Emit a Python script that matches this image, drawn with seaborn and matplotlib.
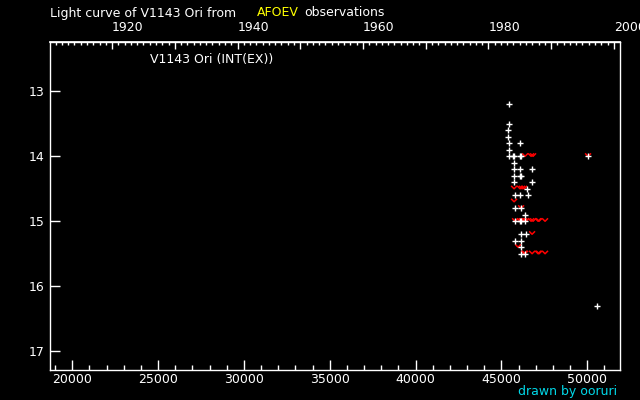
import numpy as np
import pandas as pd
import seaborn as sns
import matplotlib
matplotlib.use("Agg")
import matplotlib.pyplot as plt
from matplotlib.path import Path
from matplotlib.ticker import MultipleLocator, FixedLocator, FuncFormatter

# ---- data (JD - 2400000, magnitude) ----
obs_jd = [45444, 45444, 45386, 45386, 45444, 46084, 45444,
          45444, 45677, 45735, 46084, 46143,
          45735,
          45735, 46084, 46783,
          45735, 46084, 46143,
          45735, 46783,
          46492,
          45793, 46084, 46550,
          45793, 46143,
          46375,
          45793, 46084, 46143, 46375,
          46143, 46434,
          45793, 46143,
          46143,
          46143, 46375,
          50042,
          50565]
obs_mag = [13.2, 13.5, 13.6, 13.7, 13.8, 13.8, 13.9,
           14.0, 14.0, 14.0, 14.0, 14.0,
           14.1,
           14.2, 14.2, 14.2,
           14.3, 14.3, 14.3,
           14.4, 14.4,
           14.5,
           14.6, 14.6, 14.6,
           14.8, 14.8,
           14.9,
           15.0, 15.0, 15.0, 15.0,
           15.2, 15.2,
           15.3, 15.3,
           15.4,
           15.5, 15.5,
           14.0,
           16.3]

lim_jd = [46375, 46725, 46841,
          50042,
          45735, 46084, 46201, 46317,
          45735,
          46143,
          45793, 46084, 46201, 46317, 46434, 46725, 46841, 47132, 47190, 47539,
          46783,
          45968,
          46317, 46375, 46783, 47132, 47190, 47539]
lim_mag = [14.0, 14.0, 14.0,
           14.0,
           14.5, 14.5, 14.5, 14.5,
           14.7,
           14.8,
           15.0, 15.0, 15.0, 15.0, 15.0, 15.0, 15.0, 15.0, 15.0, 15.0,
           15.2,
           15.4,
           15.5, 15.5, 15.5, 15.5, 15.5, 15.5]

year_major = [1920, 1930, 1940, 1950, 1960, 1970, 1980, 1990, 2000]
year_labels = [1920, 1940, 1960, 1980, 2000]

obs = pd.DataFrame({"jd": obs_jd, "mag": obs_mag})
lim = pd.DataFrame({"jd": lim_jd, "mag": lim_mag})

sns.set_theme(style="dark", rc={
    "axes.facecolor": "black", "figure.facecolor": "black",
    "axes.edgecolor": "white", "axes.labelcolor": "white",
    "xtick.color": "white", "ytick.color": "white",
    "text.color": "white", "axes.grid": False,
})
plt.rcParams["font.family"] = ["DejaVu Sans"]

fig = plt.figure(figsize=(6.4, 4.0), dpi=100)
ax = fig.add_axes([50 / 640, 1 - 370 / 400, 570 / 640, 328 / 400])

vmark = Path([(-1, 1), (0, 0), (1, 1)], [Path.MOVETO, Path.LINETO, Path.LINETO])

sns.scatterplot(data=obs, x="jd", y="mag", marker="+", color="white",
                s=14, linewidth=1.0, ax=ax, legend=False, zorder=3)
ax.scatter(lim["jd"], lim["mag"], marker=vmark, s=18, facecolors="none",
           edgecolors="red", linewidths=1.1, zorder=2)

ax.set_xlim(18708, 51903)
ax.set_ylim(17.29, 12.24)
ax.set_xlabel("")
ax.set_ylabel("")

for sp in ax.spines.values():
    sp.set_color("white")
    sp.set_linewidth(1.0)

ax.xaxis.set_major_locator(MultipleLocator(5000))
ax.xaxis.set_minor_locator(MultipleLocator(1000))
ax.xaxis.set_major_formatter(FuncFormatter(lambda v, p: f"{int(v)}"))
ax.yaxis.set_major_locator(MultipleLocator(1))
ax.yaxis.set_major_formatter(FuncFormatter(lambda v, p: f"{int(v)}"))
ax.tick_params(axis="x", which="major", direction="in", length=7, width=1,
               labelsize=9, pad=2, bottom=True, top=False)
ax.tick_params(axis="x", which="minor", direction="in", length=3.5, width=1,
               bottom=True, top=False)
ax.tick_params(axis="y", which="major", direction="in", length=7, width=1,
               labelsize=9, pad=4, left=True, right=False)
ax.tick_params(axis="y", which="minor", left=False, right=False)


def jd2year(j):
    return 2000 + (np.asarray(j, dtype=float) - 51544.5) / 365.25


def year2jd(y):
    return 51544.5 + (np.asarray(y, dtype=float) - 2000) * 365.25


sec = ax.secondary_xaxis("top", functions=(jd2year, year2jd))
sec.xaxis.set_major_locator(FixedLocator(year_major))
sec.xaxis.set_minor_locator(MultipleLocator(1))
sec.xaxis.set_major_formatter(FuncFormatter(
    lambda v, p: f"{int(round(v))}" if int(round(v)) in year_labels else ""))
sec.tick_params(axis="x", which="major", direction="in", length=5, width=1,
                labelsize=9, pad=6, colors="white")
sec.tick_params(axis="x", which="minor", direction="in", length=2.5, width=1,
                colors="white")
sec.spines["top"].set_color("white")
plt.setp(sec.get_xticklabels(), ha="left")

fig.text(50 / 640, 1 - 13 / 400, "Light curve of V1143 Ori from", color="white",
         fontsize=9, va="center", ha="left")
fig.text(257 / 640, 1 - 13 / 400, "AFOEV", color="yellow",
         fontsize=9, va="center", ha="left")
fig.text(304 / 640, 1 - 13 / 400, "observations", color="white",
         fontsize=9, va="center", ha="left")
fig.text(150 / 640, 1 - 60 / 400, "V1143 Ori (INT(EX))", color="white",
         fontsize=9, va="center", ha="left")
fig.text(617 / 640, 1 - 392 / 400, "drawn by ooruri", color="#00d8e8",
         fontsize=9, va="center", ha="right")

fig.savefig("out.png", dpi=100, facecolor="black")
